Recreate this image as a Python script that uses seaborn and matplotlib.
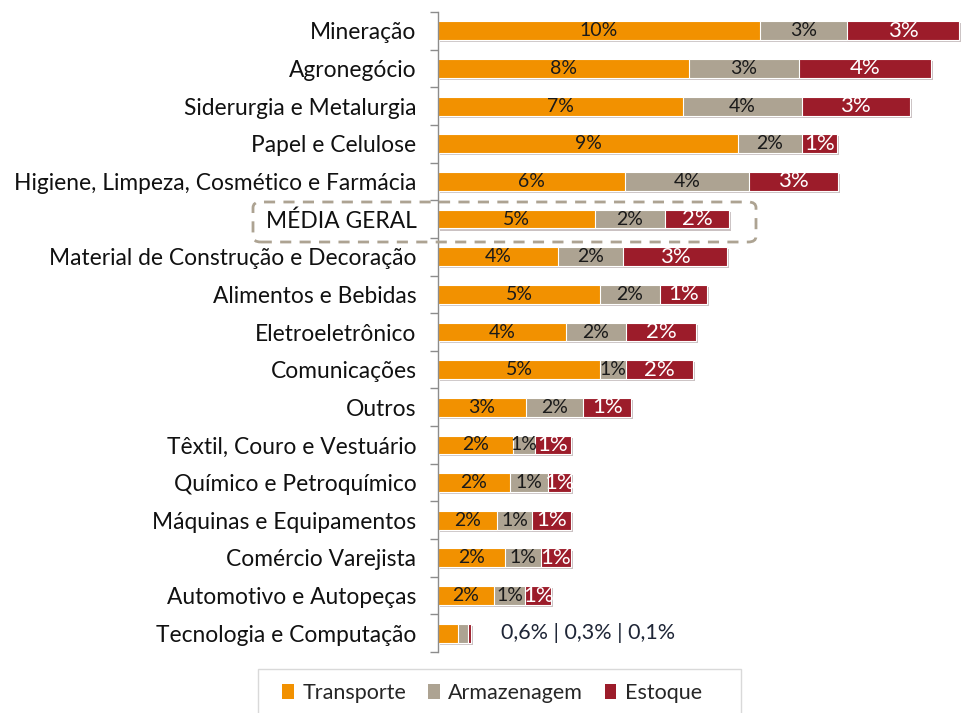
import matplotlib
matplotlib.use("Agg")
import matplotlib.pyplot as plt
import matplotlib.patheffects as pe
from matplotlib.patches import FancyBboxPatch, Rectangle, Patch
import seaborn as sns
import pandas as pd
import numpy as np

# ---------------- data ----------------
categories = [
    "Mineração", "Agronegócio", "Siderurgia e Metalurgia", "Papel e Celulose",
    "Higiene, Limpeza, Cosmético e Farmácia", "MÉDIA GERAL",
    "Material de Construção e Decoração", "Alimentos e Bebidas",
    "Eletroeletrônico", "Comunicações", "Outros", "Têxtil, Couro e Vestuário",
    "Químico e Petroquímico", "Máquinas e Equipamentos", "Comércio Varejista",
    "Automotivo e Autopeças", "Tecnologia e Computação",
]
transporte = [9.76, 7.6, 7.42, 9.09, 5.67, 4.76, 3.64, 4.91, 3.88, 4.91, 2.67,
              2.27, 2.18, 1.79, 2.03, 1.7, 0.6]
armazenagem = [2.64, 3.33, 3.6, 1.94, 3.76, 2.12, 1.97, 1.82, 1.82, 0.79, 1.73,
               0.67, 1.15, 1.06, 1.09, 0.94, 0.3]
estoque = [3.4, 4.0, 3.27, 1.06, 2.7, 1.94, 3.15, 1.42, 2.12, 2.03, 1.45,
           1.09, 0.7, 1.18, 0.91, 0.79, 0.1]
series_names = ["Transporte", "Armazenagem", "Estoque"]
series_colors = ["#F29100", "#ADA392", "#9C1C2A"]
highlight_category = "MÉDIA GERAL"
small_category = "Tecnologia e Computação"
small_note = "0,6% | 0,3% | 0,1%"

# ---------------- style ----------------
sns.set_theme(style="white")
plt.rcParams['font.family'] = ['Lato', 'DejaVu Sans']

df = pd.DataFrame({"Setor": categories, "Transporte": transporte,
                   "Armazenagem": armazenagem, "Estoque": estoque})
df["c1"] = df["Transporte"]
df["c2"] = df["c1"] + df["Armazenagem"]
df["c3"] = df["c2"] + df["Estoque"]

W, H = 963, 713
fig = plt.figure(figsize=(W / 100, H / 100), dpi=100)
ax = fig.add_axes([438 / W, 1 - 652 / H, 525 / W, 640 / H])

# stacked bars drawn as overlapping cumulative bars
for i, (col, color) in enumerate(zip(["c3", "c2", "c1"], series_colors[::-1])):
    n_before = len(ax.patches)
    sns.barplot(data=df, y="Setor", x=col, color=color, width=0.5,
                edgecolor="white", linewidth=0.8, saturation=1,
                orient="h", ax=ax, errorbar=None)
    if i == 0:
        for p in ax.patches[n_before:]:
            p.set_path_effects([pe.SimplePatchShadow(offset=(1.5, -1.5),
                                                     alpha=0.25, rho=0.3),
                                pe.Normal()])

ax.set_xlim(0, 525 / 33)
ax.set_ylim(len(categories) - 0.5, -0.5)

# segment labels
for i, cat in enumerate(categories):
    if cat == small_category:
        continue
    start = 0.0
    for name, val in zip(series_names, [transporte[i], armazenagem[i], estoque[i]]):
        cx = start + val / 2
        if name == "Estoque":
            ax.text(cx, i, f"{round(val):d}%", ha="center", va="center",
                    fontsize=16, color="white", clip_on=False)
        else:
            ax.text(cx, i, f"{round(val):d}%", ha="center", va="center",
                    fontsize=14, color="#1a1a1a")
        start += val

# note for tiny bar
k = categories.index(small_category)
ax.annotate(small_note, xy=(df["c3"][k], k), xytext=(30, 0),
            textcoords="offset pixels", ha="left", va="center",
            fontsize=15.5, color="#1f2637")

# axes styling
ax.set_xlabel("")
ax.set_ylabel("")
ax.set_xticks([])
sns.despine(ax=ax, bottom=True)
ax.spines["left"].set_color("#8c8c8c")
ax.spines["left"].set_linewidth(1.0)
ax.set_yticks(range(len(categories)))
ax.set_yticklabels(categories, fontsize=16.4, color="#111111")
ax.tick_params(axis="y", which="major", length=0, pad=15.5)
ax.set_yticks(np.arange(-0.5, len(categories), 1.0), minor=True)
ax.tick_params(axis="y", which="minor", length=6, width=1, color="#8c8c8c",
               direction="out", left=True)

# dashed highlight box around MÉDIA GERAL
box = FancyBboxPatch((253 / W, 1 - 242 / H), (756 - 253) / W, 40 / H,
                     boxstyle="round,pad=0,rounding_size=0.008",
                     transform=fig.transFigure, fill=False,
                     edgecolor="#ADA392", linewidth=2.0, linestyle=(0, (4, 3)),
                     zorder=10)
fig.patches.append(box)

# legend frame and legend
frame = Rectangle((258 / W, -0.01), (741 - 258) / W, (713 - 669) / H + 0.01,
                  transform=fig.transFigure, fill=False,
                  edgecolor="#d9d9d9", linewidth=1.0)
fig.patches.append(frame)
handles = [Patch(facecolor=c, edgecolor="none", label=n)
           for n, c in zip(series_names, series_colors)]
fig.legend(handles=handles, loc="center", bbox_to_anchor=(492 / W, 1 - 693 / H),
           ncol=3, frameon=False, fontsize=15.5, handlelength=0.55,
           handleheight=0.75, handletextpad=0.4, columnspacing=1.0)

fig.savefig("out.png", dpi=100)
